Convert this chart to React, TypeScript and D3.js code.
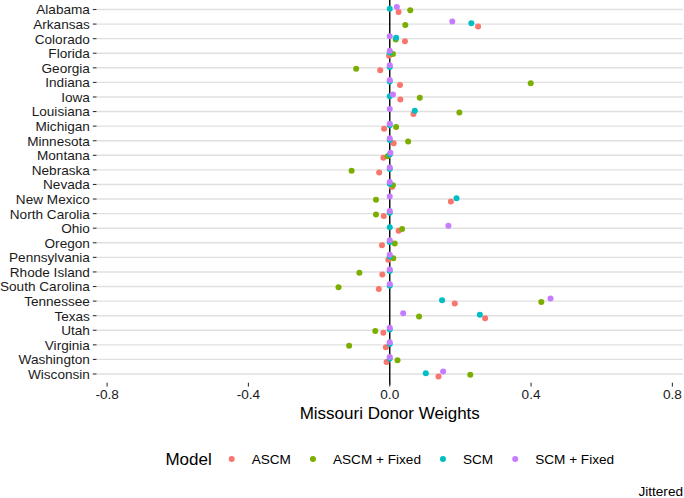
import React, { useMemo } from "react";
import * as d3 from "d3";

const states = [
  "Alabama", "Arkansas", "Colorado", "Florida", "Georgia", "Indiana", "Iowa", "Louisiana",
  "Michigan", "Minnesota", "Montana", "Nebraska", "Nevada", "New Mexico", "North Carolia", "Ohio",
  "Oregon", "Pennsylvania", "Rhode Island", "South Carolina", "Tennessee", "Texas", "Utah",
  "Virginia", "Washington", "Wisconsin",
];

const models = ["ASCM", "ASCM + Fixed", "SCM", "SCM + Fixed"];
const modelColors = ["#F8766D", "#7CAE00", "#00BFC4", "#C77CFF"];

const ascm = [
  0.025, 0.25, 0.043, -0.002, -0.027, 0.029, 0.03, 0.067, -0.016, 0.011, -0.018, -0.03, 0.006,
  0.173, -0.017, 0.025, -0.022, -0.004, -0.021, -0.031, 0.184, 0.27, -0.018, -0.011, -0.009, 0.138,
];
const ascmFixed = [
  0.058, 0.044, 0.017, 0.009, -0.095, 0.399, 0.085, 0.197, 0.018, 0.052, -0.006, -0.108, 0.009,
  -0.039, -0.039, 0.035, 0.014, 0.01, -0.086, -0.145, 0.429, 0.083, -0.041, -0.115, 0.022, 0.228,
];
const scm = [
  0, 0.231, 0.018, 0, 0, 0, 0, 0.071, 0, 0, 0, 0, 0,
  0.189, 0, 0, 0, 0, 0, 0, 0.148, 0.255, 0, 0, 0, 0.102,
];
const scmFixed = [
  0.02, 0.177, 0, 0, 0, 0, 0.009, 0, 0, 0, 0.002, 0, 0,
  0, 0, 0.166, 0, 0, 0, 0, 0.455, 0.038, 0, 0, 0, 0.151,
];
const seriesValues = [ascm, ascmFixed, scm, scmFixed];

const xTicks = [-0.8, -0.4, 0, 0.4, 0.8];
const xTitle = "Missouri Donor Weights";
const legendTitle = "Model";
const caption = "Jittered";

const W = 684;
const H = 498;
const FONT = "'Liberation Sans', Arial, Helvetica, sans-serif";
const panel = { left: 96.5, right: 683, top: 0.75, bottom: 382.75 };
const AXIS_FS = 13.6;
const TITLE_FS = 17;

function measure(text: string, size: number): number {
  const c = document.createElement("canvas").getContext("2d");
  if (!c) return text.length * size * 0.55;
  c.font = `${size}px 'Liberation Sans', Arial, sans-serif`;
  return c.measureText(text).width;
}

const fmtTick = (t: number) => d3.format(".1f")(t).replace("\u2212", "-");

export default function App() {
  const x = d3.scaleLinear().domain([-0.83, 0.83]).range([panel.left, panel.right]);
  const y = d3.scalePoint<string>().domain(states).range([panel.top, panel.bottom]).padding(0.6);
  const dodge = d3
    .scalePoint<string>()
    .domain(["SCM + Fixed", "SCM", "ASCM + Fixed", "ASCM"])
    .range([-2.5, 2.5]);

  const legend = useMemo(() => {
    const tW = measure(legendTitle, TITLE_FS);
    const lW = models.map((m) => measure(m, AXIS_FS));
    const total = tW + 20 + lW.reduce((a, b) => a + b + 20, 0) + 22 * (models.length - 1);
    const start = (panel.left + panel.right) / 2 - total / 2;
    let cur = start + tW + 20;
    const items = models.map((m, i) => {
      const dot = cur;
      const label = dot + 20;
      cur = label + lW[i] + 22;
      return { m, dot, label, color: modelColors[i] };
    });
    return { start, items };
  }, []);

  const legendY = 459;

  return (
    <svg
      width={W}
      height={H}
      style={{ position: "absolute", left: 0, top: 0, display: "block", background: "#fff" }}
      fontFamily={FONT}
    >
      {/* grid lines */}
      {states.map((s) => (
        <line
          key={"g" + s}
          x1={panel.left}
          x2={panel.right}
          y1={y(s)}
          y2={y(s)}
          stroke="#E0E0E0"
          strokeWidth={1.4}
        />
      ))}
      {/* zero line */}
      <line x1={x(0)} x2={x(0)} y1={panel.top - 1} y2={panel.bottom + 2} stroke="#000" strokeWidth={1.4} />
      {/* points */}
      {models.map((m, mi) => (
        <g key={m}>
          {states.map((s, si) => (
            <circle
              key={s}
              cx={x(seriesValues[mi][si])}
              cy={(y(s) as number) + (dodge(m) as number)}
              r={3}
              fill={modelColors[mi]}
            />
          ))}
        </g>
      ))}
      {/* y axis */}
      {states.map((s) => (
        <g key={"y" + s}>
          <line x1={panel.left - 3.7} x2={panel.left} y1={y(s)} y2={y(s)} stroke="#333" strokeWidth={1.1} />
          <text
            x={panel.left - 6.6}
            y={(y(s) as number) + 4.9}
            textAnchor="end"
            fontSize={AXIS_FS}
            fill="#1a1a1a"
          >
            {s}
          </text>
        </g>
      ))}
      {/* x axis */}
      {xTicks.map((t) => (
        <g key={"x" + t}>
          <line x1={x(t)} x2={x(t)} y1={panel.bottom} y2={panel.bottom + 3.7} stroke="#333" strokeWidth={1.1} />
          <text x={x(t)} y={398.5} textAnchor="middle" fontSize={AXIS_FS} fill="#1a1a1a">
            {fmtTick(t)}
          </text>
        </g>
      ))}
      <text x={(panel.left + panel.right) / 2} y={419} textAnchor="middle" fontSize={TITLE_FS} fill="#000">
        {xTitle}
      </text>
      {/* legend */}
      <text x={legend.start} y={legendY + 6.2} fontSize={TITLE_FS} fill="#000">
        {legendTitle}
      </text>
      {legend.items.map((it) => (
        <g key={"l" + it.m}>
          <circle cx={it.dot} cy={legendY} r={3} fill={it.color} />
          <text x={it.label} y={legendY + 4.9} fontSize={AXIS_FS} fill="#000">
            {it.m}
          </text>
        </g>
      ))}
      <text x={panel.right} y={496} textAnchor="end" fontSize={AXIS_FS} fill="#000">
        {caption}
      </text>
    </svg>
  );
}
